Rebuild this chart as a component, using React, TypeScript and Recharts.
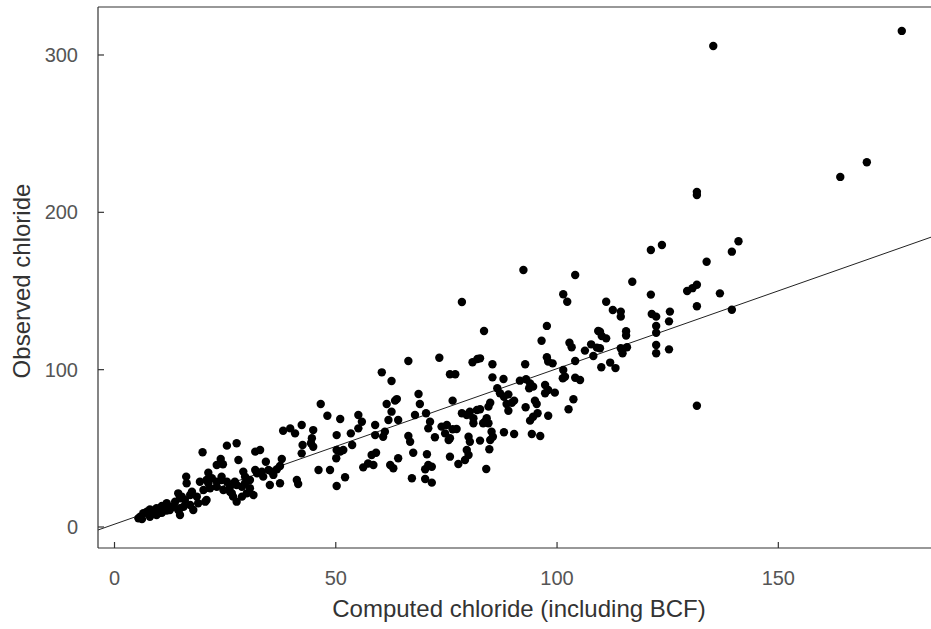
import React from "react";
import { ScatterChart, Scatter, XAxis, YAxis, ReferenceLine } from "recharts";

const computed = [
  177.9, 135.3, 170.0, 164.0,
  131.6, 131.6, 123.7, 121.2, 141.0, 139.5, 133.8, 117.0, 121.2, 111.1, 131.6, 129.4, 130.6,
  136.8, 131.6, 139.5, 112.6, 114.4, 114.4, 125.5, 121.4, 122.4, 125.3, 122.4, 122.4, 115.6,
  115.6, 111.1, 109.7, 114.4, 115.8, 114.8, 122.4, 122.4, 125.3, 109.7, 110.0, 112.0, 113.2,
  131.6,
  92.4, 104.1, 101.4, 102.3, 83.5, 97.7, 96.5, 102.8, 103.3, 109.3, 110.1, 107.7, 109.0, 108.2,
  106.3, 104.1, 97.7, 98.0, 99.0, 85.4, 92.8, 85.4, 87.9, 91.6, 93.0, 93.9, 94.6, 93.7, 97.3,
  98.0, 99.5, 97.3, 101.4, 101.8, 101.3, 104.1, 105.2, 86.5, 87.1, 88.0, 89.0, 88.6, 89.8,
  90.3, 89.0, 84.9, 84.5, 82.6, 92.9, 95.0, 95.4, 95.6, 94.6, 93.9, 98.0, 103.7, 102.6, 84.1,
  84.5, 83.3, 85.2, 85.5, 84.9, 82.6, 88.0, 90.3, 94.3, 96.2, 84.7, 84.0, 82.6,
  66.4, 73.4, 80.9, 82.0, 60.4, 62.6, 75.8, 77.0, 68.7, 69.0, 76.4, 61.5, 63.4, 63.8, 62.6,
  61.9, 64.1, 67.9, 70.4, 71.3, 70.9, 72.4, 73.9, 75.1, 76.4, 77.3, 74.7, 75.8, 75.5, 78.5,
  79.6, 80.3, 81.9, 81.1, 81.1, 83.7, 80.0, 80.3, 79.6, 80.0, 79.2, 58.9, 58.9, 60.7, 61.1,
  58.1, 59.1, 58.5, 64.1, 62.3, 63.0, 66.4, 66.8, 67.5, 70.6, 75.8, 77.7, 70.9, 71.7, 70.2,
  67.2, 70.2, 71.7, 78.5,
  46.6, 48.1, 51.0, 55.1, 55.9, 55.1, 53.4, 50.2, 44.9, 44.6, 44.4, 44.9, 42.5, 42.3, 38.1,
  39.7, 40.8, 42.3, 50.2, 51.0, 51.7, 50.1, 53.7, 56.2, 57.3, 46.1, 48.7, 52.1, 50.2, 41.2,
  41.5, 37.8, 37.4, 34.2, 31.8, 32.9, 27.6, 28.0, 29.1, 29.5, 30.6, 31.8, 32.2, 33.3, 33.6,
  34.8, 35.5, 35.9, 37.4, 35.1, 29.5, 30.6, 27.2, 26.5, 26.8,
  19.9, 25.4, 24.0, 24.5, 23.1, 21.2, 16.2, 16.3, 19.3, 20.8, 22.0, 23.1, 24.2, 25.4, 26.1,
  20.1, 21.6, 23.1, 24.6, 26.1, 20.8, 18.9, 18.6, 17.1, 17.5, 15.2, 15.9, 14.4, 14.8, 13.7,
  13.3, 12.5, 11.8, 10.7, 9.5, 8.8, 8.0, 7.3, 6.5, 5.8, 5.4, 8.0, 9.5, 10.7, 11.8, 12.5, 36.7,
  28.8, 27.6, 29.9, 28.8, 27.6, 31.4, 21.2, 24.2, 20.5, 14.4, 14.8, 17.8, 17.1, 14.8, 15.6,
  7.6, 6.2, 9.9,
];

const observed = [
  315.3, 305.7, 231.8, 222.5,
  213.0, 211.0, 179.2, 176.1, 181.6, 175.0, 168.6, 155.9, 147.7, 143.2, 154.0, 150.0, 151.8,
  148.5, 140.3, 138.1, 137.9, 136.9, 133.7, 136.9, 135.4, 133.7, 130.7, 127.8, 123.5, 124.4,
  121.7, 119.9, 124.1, 113.6, 114.2, 110.4, 115.7, 110.4, 112.9, 113.6, 101.5, 104.5, 101.0,
  77.1,
  163.3, 160.2, 147.9, 143.2, 124.6, 127.8, 118.4, 117.1, 114.2, 124.6, 121.4, 116.1, 114.0, 108.7,
  112.1, 105.5, 107.9, 105.1, 104.0, 103.4, 103.4, 95.1, 94.1, 93.0, 93.9, 91.3, 89.2, 88.2, 90.3,
  87.1, 85.4, 85.0, 99.8, 95.5, 94.5, 94.9, 93.4, 88.2, 85.0, 82.8, 84.3, 78.2, 79.0,
  80.3, 73.9, 79.0, 76.5, 74.8, 76.1, 80.3, 78.2, 72.3, 70.1, 67.6, 70.7, 81.2, 74.8, 69.1,
  65.9, 65.9, 60.6, 57.4, 55.3, 54.9, 60.2, 59.1, 59.1, 57.8, 49.4, 36.9, 107.2,
  105.5, 107.6, 104.7, 106.8, 98.3, 92.8, 97.1, 97.1, 84.5, 78.2, 80.3, 78.2, 80.3, 81.3, 73.3,
  68.0, 68.0, 71.2, 72.3, 66.9, 62.7, 57.0, 63.8, 64.8, 62.1, 62.3, 59.5, 56.4, 55.3, 72.3,
  71.2, 73.3, 74.4, 69.1, 65.9, 66.9, 57.4, 54.2, 48.9, 45.8, 42.6, 64.8, 58.4, 57.4, 60.6,
  45.8, 47.2, 39.4, 43.7, 39.4, 37.3, 57.8, 54.2, 47.2, 46.2, 44.7, 40.0, 39.4, 38.3, 36.7,
  31.0, 30.5, 28.2, 143.0,
  78.2, 70.7, 68.6, 71.2, 66.9, 62.7, 59.5, 58.4, 61.6, 56.4, 53.2, 51.0, 52.1, 46.8, 61.2,
  62.7, 59.5, 64.8, 48.9, 47.9, 48.9, 43.7, 52.1, 37.9, 40.4, 36.2, 36.2, 31.6, 26.1, 29.9,
  27.3, 43.2, 38.8, 41.5, 47.9, 48.9, 53.2, 42.6, 35.2, 32.0, 29.9, 36.2, 34.1, 35.2, 32.0,
  36.2, 35.2, 33.1, 27.8, 26.7, 27.8, 24.6, 28.8, 21.4, 19.3,
  47.5, 51.7, 43.2, 39.9, 39.4, 34.5, 32.0, 27.8, 28.8, 29.9, 31.0, 28.8, 29.9, 28.8, 25.6,
  23.5, 24.6, 25.6, 23.5, 22.4, 17.2, 15.1, 19.3, 20.3, 22.4, 19.3, 17.2, 10.8, 7.6, 16.1,
  12.9, 12.9, 15.1, 13.3, 11.9, 10.4, 11.2, 9.7, 8.7, 6.5, 5.5, 6.5, 7.6, 9.1, 10.4, 10.8, 36.7,
  25.6, 26.7, 21.4, 19.3, 16.1, 20.3, 27.8, 32.0, 16.1, 21.4, 18.2, 10.8, 14.0, 11.9, 12.9,
  9.1, 5.0, 8.7,
];

const xTicks = [0, 50, 100, 150];
const yTicks = [0, 100, 200, 300];

// fitted line end points
const fitX = [-3.73, 184.5];
const fitY = [-1.9, 184.2];

const points = computed.map((x, i) => ({ x, y: observed[i] }));

const FONT = "'Liberation Sans', Arial, sans-serif";

const Dot = (props: any) => (
  <circle cx={props.cx} cy={props.cy} r={4.2} fill="#000" />
);

const XTitle = () => (
  <text x={519} y={617} textAnchor="middle" fontSize={24} fill="#333" fontFamily={FONT}>
    Computed chloride (including BCF)
  </text>
);

const YTitle = () => (
  <text
    x={30}
    y={281}
    transform="rotate(-90 30 281)"
    textAnchor="middle"
    fontSize={24}
    fill="#333"
    fontFamily={FONT}
  >
    Observed chloride
  </text>
);

export default function App() {
  const tickStyle = { fontSize: 20, fill: "#555", fontFamily: FONT };
  const lineStyle = { stroke: "#333", strokeWidth: 1.2 };
  return (
    <div style={{ position: "absolute", left: 0, top: 0, background: "#fff" }}>
      <ScatterChart width={931} height={629} margin={{ top: 7, right: 0, bottom: 0, left: 0 }}>
        <XAxis
          type="number"
          dataKey="x"
          domain={[-3.73, 184.5]}
          ticks={xTicks}
          allowDataOverflow
          height={81}
          tickSize={-6}
          tickMargin={29}
          tick={tickStyle}
          axisLine={lineStyle}
          tickLine={lineStyle}
          label={XTitle}
        />
        <YAxis
          type="number"
          dataKey="y"
          domain={[-13.35, 330.5]}
          ticks={yTicks}
          allowDataOverflow
          width={98}
          tickSize={-6}
          tickMargin={26}
          tick={tickStyle}
          axisLine={lineStyle}
          tickLine={lineStyle}
          label={YTitle}
        />
        <ReferenceLine y={330.5} stroke="#333" strokeWidth={1.2} />
        <ReferenceLine
          segment={[
            { x: fitX[0], y: fitY[0] },
            { x: fitX[1], y: fitY[1] },
          ]}
          stroke="#222"
          strokeWidth={1}
        />
        <Scatter data={points} shape={Dot} isAnimationActive={false} />
      </ScatterChart>
    </div>
  );
}
